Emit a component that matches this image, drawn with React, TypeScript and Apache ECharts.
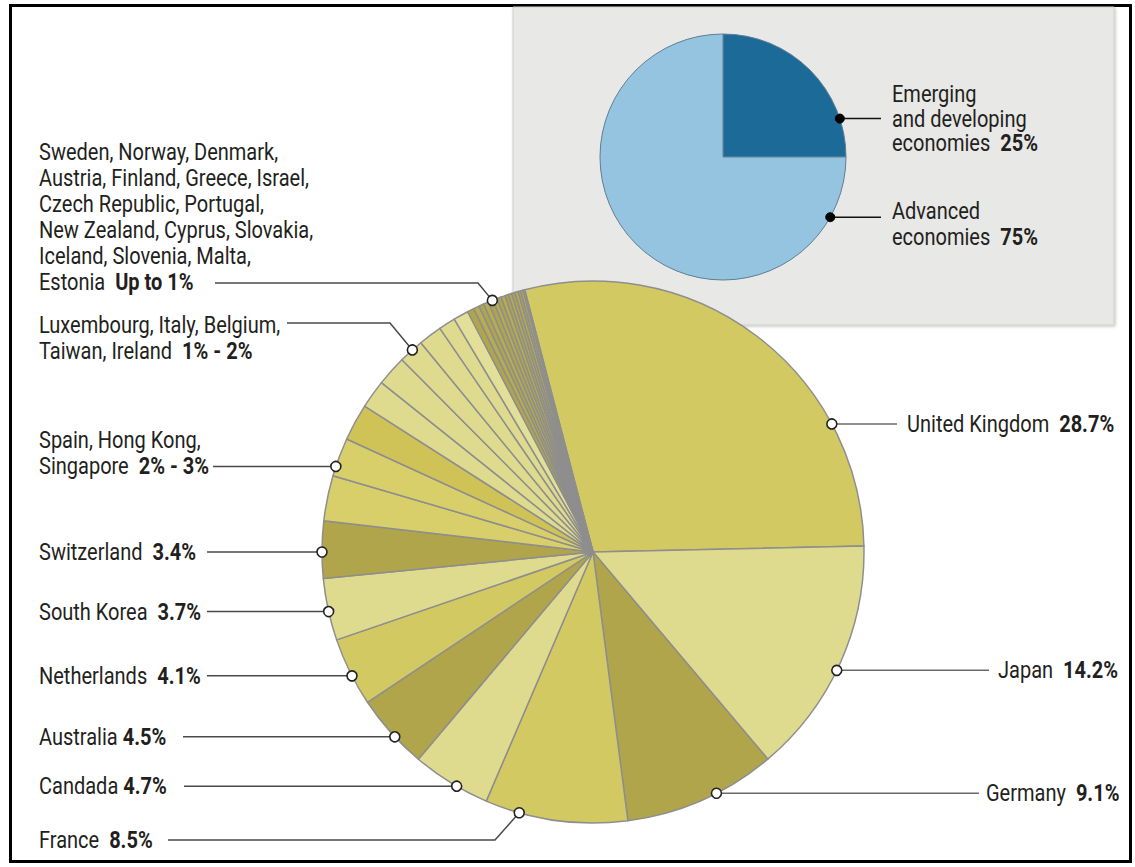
import React, { useEffect, useRef } from "react";
import * as echarts from "echarts";

// ---------------- data ----------------
const singleCountries = ["United Kingdom", "Japan", "Germany", "France", "Candada", "Australia", "Netherlands", "South Korea", "Switzerland"];
const singleShares = [28.7, 14.2, 9.1, 8.5, 4.7, 4.5, 4.1, 3.7, 3.4];

const group23Countries = ["Spain", "Hong Kong", "Singapore"];
const group23Shares = [2.7, 2.3, 2.2];
const group23Range = "2% - 3%";

const group12Countries = ["Luxembourg", "Italy", "Belgium", "Taiwan", "Ireland"];
const group12Shares = [1.7, 1.8, 1.5, 1.4, 1.0];
const group12Range = "1% - 2%";

const group01Countries = ["Sweden", "Norway", "Denmark", "Austria", "Finland", "Greece", "Israel", "Czech Republic", "Portugal", "New Zealand", "Cyprus", "Slovakia", "Iceland", "Slovenia", "Malta", "Estonia"];
const group01Shares = [0.9, 0.4, 0.35, 0.3, 0.3, 0.3, 0.25, 0.25, 0.25, 0.2, 0.2, 0.2, 0.2, 0.15, 0.15, 0.1];
const group01Range = "Up to 1%";

const economyNames = ["Emerging\nand developing\neconomies", "Advanced\neconomies"];
const economyShares = [25, 75];

// ---------------- styles ----------------
const M = "#d3c962";
const M2 = "#d8cf6b";
const M3 = "#cfc358";
const L = "#dfdb8e";
const L2 = "#e2df98";
const D = "#b1a54b";
const D2 = "#b8ac50";
const singleTones = [M, L, D, M, L, D, M, L, D];
const group23Tones = [M2, M2, M3];
const group12Tones = [L, L, L, L, L];
const group01Tones = [L2, D, D2, D, D2, D, D2, D, D2, D, D2, D, D2, D, D2, D];
const econTones = ["#1c6a97", "#94c4df"];

const FONT = 'Roboto, "Noto Sans", sans-serif';
const FS = 23;
const SX = 0.87;
const INK = "#231f20";

const MAIN = { x: 593, y: 552, r: 271 };
const SMALL = { x: 723, y: 157, r: 123 };

function edge(c: { x: number; y: number; r: number }, deg: number): [number, number] {
  const a = (deg * Math.PI) / 180;
  return [c.x + c.r * Math.sin(a), c.y - c.r * Math.cos(a)];
}

function joinLines(names: string[], counts: number[]): string {
  const lines: string[] = [];
  let k = 0;
  counts.forEach((n, li) => {
    const part = names.slice(k, k + n).join(", ");
    k += n;
    lines.push(part + (li < counts.length - 1 ? "," : ""));
  });
  return lines.join("\n");
}

export default function App() {
  const ref = useRef<HTMLDivElement>(null);

  useEffect(() => {
    if (!ref.current) return;
    const chart = echarts.init(ref.current, undefined, { renderer: "svg" });

    const mainData: any[] = [];
    const push = (names: string[], vals: number[], tones: string[]) =>
      names.forEach((n, i) => mainData.push({ name: n, value: vals[i], itemStyle: { color: tones[i] } }));
    push(singleCountries, singleShares, singleTones);
    push(group23Countries, group23Shares, group23Tones);
    push(group12Countries, group12Shares, group12Tones);
    push(group01Countries, group01Shares, group01Tones);

    const econData = economyNames.map((n, i) => ({ name: n, value: economyShares[i], itemStyle: { color: econTones[i] } }));

    const textEl = (x: number, y: number, text: string, va: string, lh = 26) => ({
      type: "text",
      x,
      y,
      scaleX: SX,
      z: 60,
      style: {
        text,
        x: 0,
        y: 0,
        fontFamily: FONT,
        fontSize: FS,
        fill: INK,
        align: "left",
        verticalAlign: va,
        lineHeight: lh,
        rich: { b: { fontFamily: FONT, fontSize: FS, fontWeight: "bold", fill: INK, color: INK, lineHeight: lh } },
      },
    });
    const lineEl = (pts: number[][], stroke = "#4a4a4a") => ({
      type: "polyline",
      z: 50,
      shape: { points: pts },
      style: { stroke, lineWidth: 1.5, fill: null },
    });
    const dotEl = (p: number[], filled = false) => ({
      type: "circle",
      z: 61,
      shape: { cx: p[0], cy: p[1], r: filled ? 4.5 : 5 },
      style: filled ? { fill: "#000", stroke: "#000", lineWidth: 1 } : { fill: "#fff", stroke: "#222", lineWidth: 1.6 },
    });

    const g: any[] = [];
    // outer frame
    g.push({ type: "rect", z: 1, shape: { x: 10.5, y: 5.5, width: 1120, height: 856 }, style: { fill: "#fff", stroke: "#000", lineWidth: 3 } });
    // inset box
    g.push({
      type: "rect",
      z: 2,
      shape: { x: 513, y: 7, width: 601, height: 318 },
      style: { fill: "#e8e8e6", stroke: "#cfcfcd", lineWidth: 1, shadowBlur: 3, shadowColor: "rgba(0,0,0,0.25)", shadowOffsetX: 1, shadowOffsetY: 1 },
    });

    // right-side single labels
    const rightLayout = [
      { i: 0, angle: 61.8, lineTo: 897, textX: 907 },
      { i: 1, angle: 115.9, lineTo: 989, textX: 998 },
      { i: 2, angle: 152.9, lineTo: 979, textX: 986 },
    ];
    rightLayout.forEach((o) => {
      const p = edge(MAIN, o.angle);
      g.push(lineEl([p, [o.lineTo, p[1]]], "#6a6a6a"));
      g.push(dotEl(p));
      g.push(textEl(o.textX, p[1], `${singleCountries[o.i]}  {b|${singleShares[o.i]}%}`, "middle"));
    });

    // left-side single labels
    const leftLayout = [
      { i: 3, angle: 195.8, lineFrom: 168, elbow: [495, 840] },
      { i: 4, angle: 210.2, lineFrom: 184 },
      { i: 5, angle: 227, lineFrom: 183 },
      { i: 6, angle: 242.8, lineFrom: 207 },
      { i: 7, angle: 257.3, lineFrom: 207 },
      { i: 8, angle: 270, lineFrom: 207 },
    ];
    leftLayout.forEach((o) => {
      const p = edge(MAIN, o.angle);
      const y = o.elbow ? o.elbow[1] : p[1];
      const pts = o.elbow ? [[o.lineFrom, y], o.elbow, p] : [[o.lineFrom, y], p];
      g.push(lineEl(pts));
      g.push(dotEl(p));
      const sep = o.i === 4 || o.i === 5 ? " " : "  ";
      g.push(textEl(39, y, `${singleCountries[o.i]}${sep}{b|${singleShares[o.i]}%}`, "middle"));
    });

    // grouped labels
    {
      const p = edge(MAIN, 288.4);
      g.push(lineEl([[213, p[1]], p]));
      g.push(dotEl(p));
      const t = joinLines(group23Countries, [2, 1]) + `  {b|${group23Range}}`;
      g.push(textEl(39, p[1] - 13 - 26, t, "top"));
    }
    {
      const p = edge(MAIN, 318.2);
      g.push(lineEl([[287, 323], [390, 323], p]));
      g.push(dotEl(p));
      const t = joinLines(group12Countries, [3, 2]) + `  {b|${group12Range}}`;
      g.push(textEl(39, 312, t, "top"));
    }
    {
      const p = edge(MAIN, 338.2);
      g.push(lineEl([[215, 283], [478, 283], p]));
      g.push(dotEl(p));
      const t = joinLines(group01Countries, [3, 4, 2, 3, 3, 1]) + `  {b|${group01Range}}`;
      g.push(textEl(39, 282 + 13 - 6 * 26, t, "top"));
    }

    // inset labels
    {
      const p = edge(SMALL, 71.8);
      g.push(lineEl([p, [881, p[1]]], "#111"));
      g.push(dotEl(p, true));
      g.push(textEl(892, 118.5, `${economyNames[0]}  {b|${economyShares[0]}%}`, "middle", 25));
    }
    {
      const p = edge(SMALL, 119.3);
      g.push(lineEl([p, [881, p[1]]], "#111"));
      g.push(dotEl(p, true));
      g.push(textEl(892, 224, `${economyNames[1]}  {b|${economyShares[1]}%}`, "middle", 26));
    }

    chart.setOption({
      animation: false,
      backgroundColor: "#ffffff",
      graphic: { elements: g },
      series: [
        {
          type: "pie",
          z: 5,
          center: [MAIN.x, MAIN.y],
          radius: MAIN.r,
          startAngle: 104.6,
          clockwise: true,
          silent: true,
          avoidLabelOverlap: false,
          label: { show: false },
          labelLine: { show: false },
          itemStyle: { borderColor: "#8e8e8e", borderWidth: 1.5 },
          data: mainData,
        },
        {
          type: "pie",
          z: 5,
          center: [SMALL.x, SMALL.y],
          radius: SMALL.r,
          startAngle: 90,
          clockwise: true,
          silent: true,
          label: { show: false },
          labelLine: { show: false },
          itemStyle: { borderColor: "#5f7f93", borderWidth: 1 },
          data: econData,
        },
      ],
    });

    return () => chart.dispose();
  }, []);

  return <div ref={ref} style={{ position: "absolute", left: 0, top: 0, width: 1135, height: 867 }} />;
}
